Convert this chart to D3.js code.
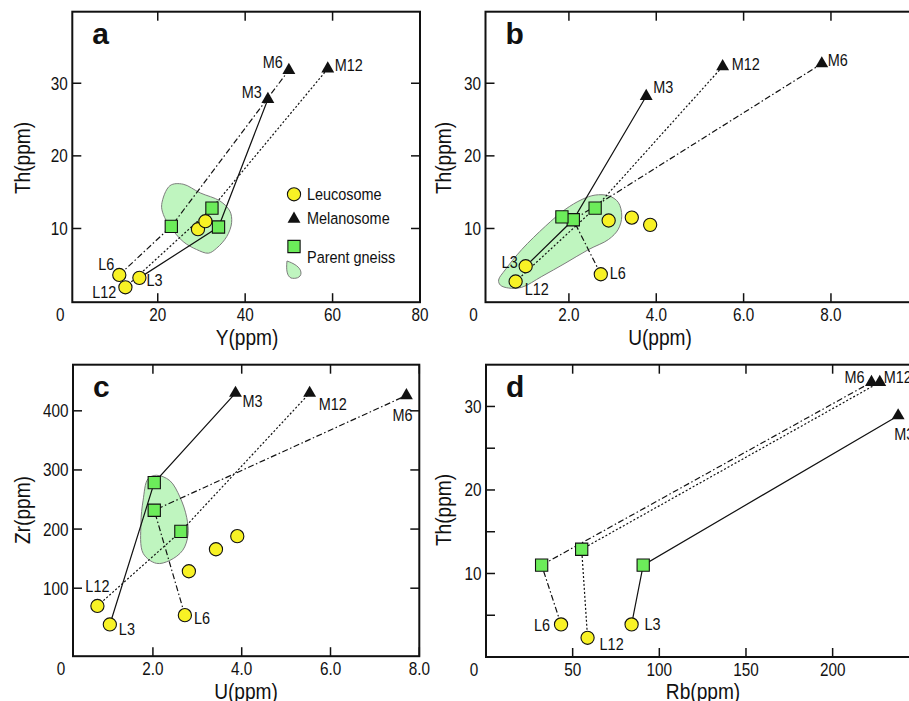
<!DOCTYPE html>
<html><head><meta charset="utf-8">
<script src="https://cdn.jsdelivr.net/npm/d3@7"></script>
<style>
html,body{margin:0;padding:0;background:#fff;overflow:hidden}
svg text{font-family:"Liberation Sans",Arial,Helvetica,sans-serif;fill:#111}
</style></head><body>
<svg id="chart" width="909" height="701"></svg>
<script>
// ---------- DATA ----------
const leucoLabels = ["L3", "L6", "L12"];
const melaLabels = ["M3", "M6", "M12"];
const legendItems = ["Leucosome", "Melanosome", "Parent gneiss"];

// Panel a : Y(ppm) vs Th(ppm)
const aLeucoX = [15.8, 11.2, 12.6, 29.2, 30.9];
const aLeucoY = [3.2, 3.6, 1.9, 9.9, 11.0];
const aMelaX = [45.2, 50.0, 58.9];
const aMelaY = [27.8, 31.8, 32.0];
const aParentX = [33.9, 23.1, 32.4];
const aParentY = [10.2, 10.3, 12.8];
const aLink = [0, 1, 2];
const aFieldX = [20.9, 22.8, 25.8, 29.7, 34.2, 36.5, 36.9, 35.8, 33.5, 31.6, 28.9, 25.8, 22.8, 21.3];
const aFieldY = [13.3, 15.9, 16.1, 14.9, 13.8, 12.4, 10.8, 8.9, 7.3, 6.6, 7.1, 8.2, 10.3, 11.9];
const aXTicks = [20, 40, 60, 80];
const aYTicks = [10, 20, 30];

// Panel b : U(ppm) vs Th(ppm)
const bLeucoX = [1.01, 2.73, 0.78, 2.91, 3.44, 3.86];
const bLeucoY = [4.8, 3.7, 2.7, 11.1, 11.5, 10.5];
const bMelaX = [3.77, 7.79, 5.52];
const bMelaY = [28.2, 32.7, 32.3];
const bParentX = [2.10, 1.84, 2.60];
const bParentY = [11.2, 11.6, 12.8];
const bLink = [0, 0, 2];
const bFieldX = [0.39, 0.54, 0.92, 1.46, 1.91, 2.30, 2.60, 2.91, 3.13, 3.21, 3.13, 2.91, 2.45, 1.91, 1.38, 0.92, 0.62, 0.43];
const bFieldY = [2.9, 4.3, 7.1, 10.3, 12.6, 14.0, 14.6, 14.5, 13.6, 11.7, 9.9, 8.5, 7.1, 5.2, 3.4, 1.9, 1.8, 2.2];
const bXTicks = [2, 4, 6, 8];
const bXTickLabels = ["2.0", "4.0", "6.0", "8.0"];
const bYTicks = [10, 20, 30];

// Panel c : U(ppm) vs Zr(ppm)
const cLeucoX = [1.03, 2.72, 0.75, 2.81, 3.42, 3.90];
const cLeucoY = [38.7, 54.4, 70, 128.7, 165.9, 188];
const cMelaX = [3.86, 7.71, 5.53];
const cMelaY = [430, 426, 430];
const cParentX = [2.03, 2.03, 2.63];
const cParentY = [278.5, 231.8, 196];
const cLink = [0, 1, 2];
const cFieldX = [2.08, 2.38, 2.61, 2.76, 2.79, 2.67, 2.38, 2.08, 1.78, 1.73, 1.78, 1.89];
const cFieldY = [291, 282, 254, 220, 190, 164, 147, 142, 159, 209, 249, 285];
const cXTicks = [2, 4, 6, 8];
const cXTickLabels = ["2.0", "4.0", "6.0", "8.0"];
const cYTicks = [100, 200, 300, 400];

// Panel d : Rb(ppm) vs Th(ppm)
const dLeucoX = [84.0, 43.3, 58.6];
const dLeucoY = [3.9, 3.9, 2.3];
const dMelaX = [237.8, 222.4, 227.2];
const dMelaY = [28.9, 32.9, 32.9];
const dParentX = [90.7, 32.1, 55.2];
const dParentY = [11.0, 11.0, 12.9];
const dLink = [0, 1, 2];
const dXTicks = [50, 100, 150, 200];
const dYTicks = [10, 20, 30];
const dYMinorTicks = [5, 15, 25];

// ---------- STYLE ----------
const COL_LEUCO = "#f8f225";
const COL_PARENT = "#6cec5a";
const COL_FIELD = "#bff5bf";
const DASH = ["none", "6,2.5,1.5,2.5", "2,2"];   // sample 3 solid, 6 dash-dot, 12 dotted
const NARROW = 0.85;

const svg = d3.select("#chart");
svg.append("rect").attr("width", 909).attr("height", 701).attr("fill", "#fff");

function zip(xs, ys) { return xs.map((x, i) => [x, ys[i]]); }

// condensed text helper (Arial-Narrow-like look)
function ntext(g, x, y, str, size, anchor, rot) {
  return g.append("text")
    .attr("transform", `translate(${x},${y})${rot ? " rotate(" + rot + ")" : ""} scale(${NARROW},1)`)
    .attr("text-anchor", anchor || "start").attr("font-size", size).text(str);
}

function panel(o) {
  const g = svg.append("g");
  const x = d3.scaleLinear().domain(o.xd).range(o.xr);
  const y = d3.scaleLinear().domain(o.yd).range(o.yr);
  const [x0, x1] = o.xr, [y0, y1] = o.yr; // y0 bottom, y1 top

  if (o.field) {
    g.append("path").datum(o.field)
      .attr("d", d3.line().x(d => x(d[0])).y(d => y(d[1])).curve(d3.curveCatmullRomClosed.alpha(0.5)))
      .attr("fill", COL_FIELD).attr("stroke", "#7d7d7d").attr("stroke-width", 1);
  }

  o.link.forEach((p, i) => {
    const pts = [o.leuco[i], o.parent[p], o.mela[i]];
    g.append("path").datum(pts)
      .attr("d", d3.line().x(d => x(d[0])).y(d => y(d[1])))
      .attr("fill", "none").attr("stroke", "#111").attr("stroke-width", 1.2)
      .attr("stroke-dasharray", DASH[i]);
  });

  g.append("rect").attr("x", x0).attr("y", y1).attr("width", x1 - x0).attr("height", y0 - y1)
    .attr("fill", "none").attr("stroke", "#111").attr("stroke-width", 2);

  const TL = 9;
  o.xt.forEach(t => {
    const px = x(t);
    g.append("line").attr("x1", px).attr("x2", px).attr("y1", y0).attr("y2", y0 - TL).attr("stroke", "#111").attr("stroke-width", 1.5);
    g.append("line").attr("x1", px).attr("x2", px).attr("y1", y1).attr("y2", y1 + TL).attr("stroke", "#111").attr("stroke-width", 1.5);
  });
  o.yt.concat(o.ytMinor || []).forEach(t => {
    const py = y(t);
    g.append("line").attr("x1", x0).attr("x2", x0 + TL).attr("y1", py).attr("y2", py).attr("stroke", "#111").attr("stroke-width", 1.5);
    g.append("line").attr("x1", x1).attr("x2", x1 - TL).attr("y1", py).attr("y2", py).attr("stroke", "#111").attr("stroke-width", 1.5);
  });
  o.xt.forEach((t, i) => ntext(g, x(t), y0 + 19, o.xtl ? o.xtl[i] : t, 18, "middle"));
  o.yt.forEach(t => ntext(g, x0 - 4.5, y(t) + 6.5, t, 18, "end"));
  ntext(g, x0 - 12, y0 + 19, "0", 18, "middle");

  ntext(g, o.xTitlePos[0], o.xTitlePos[1], o.xTitle, 22.5, "middle");
  ntext(g, o.yTitlePos[0], o.yTitlePos[1], o.yTitle, 22.5, "middle", -90);

  g.append("text").attr("x", x0 + 20).attr("y", y1 + 32).attr("font-size", 30)
    .attr("font-weight", "bold").text(o.letter);

  g.selectAll(".leu").data(o.leucoAll).join("circle")
    .attr("cx", d => x(d[0])).attr("cy", d => y(d[1])).attr("r", 6.6)
    .attr("fill", COL_LEUCO).attr("stroke", "#111").attr("stroke-width", 1.1);
  g.selectAll(".par").data(o.parentAll).join("path")
    .attr("d", d3.symbol(d3.symbolSquare, 150))
    .attr("transform", d => `translate(${x(d[0])},${y(d[1])})`)
    .attr("fill", COL_PARENT).attr("stroke", "#111").attr("stroke-width", 1.1);
  g.selectAll(".mel").data(o.mela).join("path")
    .attr("d", d3.symbol(d3.symbolTriangle, 72))
    .attr("transform", d => `translate(${x(d[0])},${y(d[1])})`)
    .attr("fill", "#111");

  const lab = (pt, text, off) => ntext(g, x(pt[0]) + off[0], y(pt[1]) + off[1], text, 17, off[2]);
  leucoLabels.forEach((t, i) => lab(o.leuco[i], t, o.lOff[i]));
  melaLabels.forEach((t, i) => lab(o.mela[i], t, o.mOff[i]));
  return { g, x, y };
}

panel({
  letter: "a", xd: [0.45, 80], xr: [72.3, 420], yd: [-0.15, 39.85], yr: [302.2, 11.7],
  xt: aXTicks, yt: aYTicks,
  leuco: zip(aLeucoX, aLeucoY).slice(0, 3), leucoAll: zip(aLeucoX, aLeucoY),
  mela: zip(aMelaX, aMelaY), parent: zip(aParentX, aParentY), parentAll: zip(aParentX, aParentY),
  link: aLink, field: zip(aFieldX, aFieldY),
  xTitle: "Y(ppm)", xTitlePos: [247, 345], yTitle: "Th(ppm)", yTitlePos: [30, 158],
  lOff: [[7, 8, "start"], [-5, -5, "end"], [-9, 11, "end"]],
  mOff: [[-6, -1, "end"], [-6, -2, "end"], [7, 2, "start"]]
});

panel({
  letter: "b", xd: [0.09, 10], xr: [485.5, 918.3], yd: [-0.15, 39.85], yr: [302.2, 11.7],
  xt: bXTicks, xtl: bXTickLabels, yt: bYTicks,
  leuco: zip(bLeucoX, bLeucoY).slice(0, 3), leucoAll: zip(bLeucoX, bLeucoY),
  mela: zip(bMelaX, bMelaY), parent: zip(bParentX, bParentY), parentAll: zip(bParentX, bParentY),
  link: bLink, field: zip(bFieldX, bFieldY),
  xTitle: "U(ppm)", xTitlePos: [660, 345], yTitle: "Th(ppm)", yTitlePos: [451, 158],
  lOff: [[-8, 2, "end"], [9, 5, "start"], [9, 13, "start"]],
  mOff: [[7, -3, "start"], [6, 2, "start"], [9, 3, "start"]]
});

panel({
  letter: "c", xd: [0.2, 8], xr: [73, 419.3], yd: [-15, 478], yr: [656.2, 364.7],
  xt: cXTicks, xtl: cXTickLabels, yt: cYTicks,
  leuco: zip(cLeucoX, cLeucoY).slice(0, 3), leucoAll: zip(cLeucoX, cLeucoY),
  mela: zip(cMelaX, cMelaY), parent: zip(cParentX, cParentY), parentAll: zip(cParentX, cParentY),
  link: cLink, field: zip(cFieldX, cFieldY),
  xTitle: "U(ppm)", xTitlePos: [246, 698.5], yTitle: "Zr(ppm)", yTitlePos: [30, 510],
  lOff: [[9, 11, "start"], [9, 9, "start"], [0, -14, "middle"]],
  mOff: [[7, 14, "start"], [-4, 26, "middle"], [9, 17, "start"]]
});

panel({
  letter: "d", xd: [0, 250], xr: [486, 919.3], yd: [0, 35], yr: [657, 364.7],
  xt: dXTicks, yt: dYTicks, ytMinor: dYMinorTicks,
  leuco: zip(dLeucoX, dLeucoY), leucoAll: zip(dLeucoX, dLeucoY),
  mela: zip(dMelaX, dMelaY), parent: zip(dParentX, dParentY), parentAll: zip(dParentX, dParentY),
  link: dLink, field: null,
  xTitle: "Rb(ppm)", xTitlePos: [703, 698.5], yTitle: "Th(ppm)", yTitlePos: [451, 510],
  lOff: [[13, 6, "start"], [-11, 7, "end"], [12, 12, "start"]],
  mOff: [[-4, 24, "start"], [-7, 1, "end"], [4, 1, "start"]]
});

// Legend (panel a)
const lg = svg.append("g").attr("transform", "translate(294,0)");
lg.append("circle").attr("cx", 0).attr("cy", 194.3).attr("r", 6.6)
  .attr("fill", COL_LEUCO).attr("stroke", "#111").attr("stroke-width", 1.1);
lg.append("path").attr("d", d3.symbol(d3.symbolTriangle, 72)).attr("transform", "translate(0,219)").attr("fill", "#111");
lg.append("path").attr("d", d3.symbol(d3.symbolSquare, 150)).attr("transform", "translate(0,246.5)")
  .attr("fill", COL_PARENT).attr("stroke", "#111").attr("stroke-width", 1.1);
lg.append("path").attr("d", "M-7,-9 C-1,-7 7,-3 7,3 C7,8 1,9 -3,8 C-7,6 -8,0 -7,-9 Z")
  .attr("transform", "translate(0,270)").attr("fill", COL_FIELD).attr("stroke", "#7d7d7d").attr("stroke-width", 1);
const lgY = [199.5, 224, 262.5];
legendItems.forEach((t, i) => ntext(lg, 13, lgY[i], t, 17, "start"));
</script>
</body></html>
